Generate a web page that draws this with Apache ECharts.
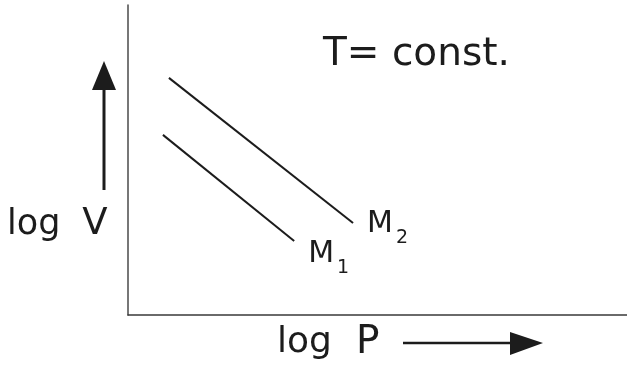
<!DOCTYPE html>
<html>
<head>
<meta charset="utf-8">
<script src="https://cdn.jsdelivr.net/npm/echarts@6/dist/echarts.min.js"></script>
<style>
  html, body { margin: 0; padding: 0; background: #fff; }
  #chart { width: 627px; height: 366px; }
</style>
</head>
<body>
<div id="chart"></div>
<script>
// Isotherms of log V against log P for two molar masses (arbitrary units)
const logP_M2 = [0.82, 4.51];
const logV_M2 = [7.65, 2.97];
const logP_M1 = [0.70, 3.33];
const logV_M1 = [5.81, 2.39];
const seriesNames = ['M2', 'M1'];

const FONT = 'DejaVu Sans';
const INK = '#1c1c1c';

function pairs(xs, ys) {
  return xs.map((x, i) => [x, ys[i]]);
}

// "M" with a lowered numeral, placed just past the end of each line
function endLabel(sub, dy) {
  return {
    show: true,
    distance: 14,
    offset: [0, dy],
    formatter: () => '{m|M}{s|' + sub + '}',
    rich: {
      m: { fontFamily: FONT, fontSize: 30, color: INK, lineHeight: 30, verticalAlign: 'top' },
      s: { fontFamily: FONT, fontSize: 19, color: INK, lineHeight: 19, verticalAlign: 'top', padding: [20, 0, 0, 3] }
    }
  };
}

const chart = echarts.init(document.getElementById('chart'), null, { renderer: 'canvas' });
chart.setOption({
  animation: false,
  backgroundColor: '#fff',
  grid: { left: 128, right: 0, top: 5, bottom: 51 },
  xAxis: {
    type: 'value', min: 0, max: 10,
    axisLine: { show: true, lineStyle: { color: '#3a3a3a', width: 1.5 } },
    axisTick: { show: false }, axisLabel: { show: false }, splitLine: { show: false }
  },
  yAxis: {
    type: 'value', min: 0, max: 10,
    axisLine: { show: true, lineStyle: { color: '#4a4a4a', width: 1.5 } },
    axisTick: { show: false }, axisLabel: { show: false }, splitLine: { show: false }
  },
  series: [
    {
      name: seriesNames[0], type: 'line', data: pairs(logP_M2, logV_M2),
      symbol: 'none', lineStyle: { color: INK, width: 2 },
      endLabel: endLabel('2', 1)
    },
    {
      name: seriesNames[1], type: 'line', data: pairs(logP_M1, logV_M1),
      symbol: 'none', lineStyle: { color: INK, width: 2 },
      endLabel: endLabel('1', 13)
    }
  ],
  graphic: [
    { type: 'text', left: 323, top: 35,
      style: { text: 'T= const.', fontFamily: FONT, fontSize: 39, fill: INK } },
    { type: 'text', left: 7, top: 206,
      style: {
        text: '{a|log}{b|V}', fontFamily: FONT, fontSize: 35, fill: INK,
        rich: {
          a: { fontFamily: FONT, fontSize: 35, color: INK },
          b: { fontFamily: FONT, fontSize: 37, color: INK, padding: [0, 0, 0, 22] }
        }
      } },
    { type: 'text', left: 277, top: 323,
      style: {
        text: '{a|log}{b|P}', fontFamily: FONT, fontSize: 37, fill: INK,
        rich: {
          a: { fontFamily: FONT, fontSize: 36, color: INK },
          b: { fontFamily: FONT, fontSize: 39, color: INK, padding: [0, 0, 0, 24] }
        }
      } },
    // upward arrow beside the vertical axis
    { type: 'line', shape: { x1: 104, y1: 190, x2: 104, y2: 86 },
      style: { stroke: INK, lineWidth: 3 } },
    { type: 'polygon', shape: { points: [[92, 90], [116, 90], [104, 61]] },
      style: { fill: INK } },
    // rightward arrow beside the horizontal axis
    { type: 'line', shape: { x1: 403, y1: 343, x2: 514, y2: 343 },
      style: { stroke: INK, lineWidth: 2.5 } },
    { type: 'polygon', shape: { points: [[510, 332], [510, 355], [543, 343]] },
      style: { fill: INK } }
  ]
});
</script>
</body>
</html>
